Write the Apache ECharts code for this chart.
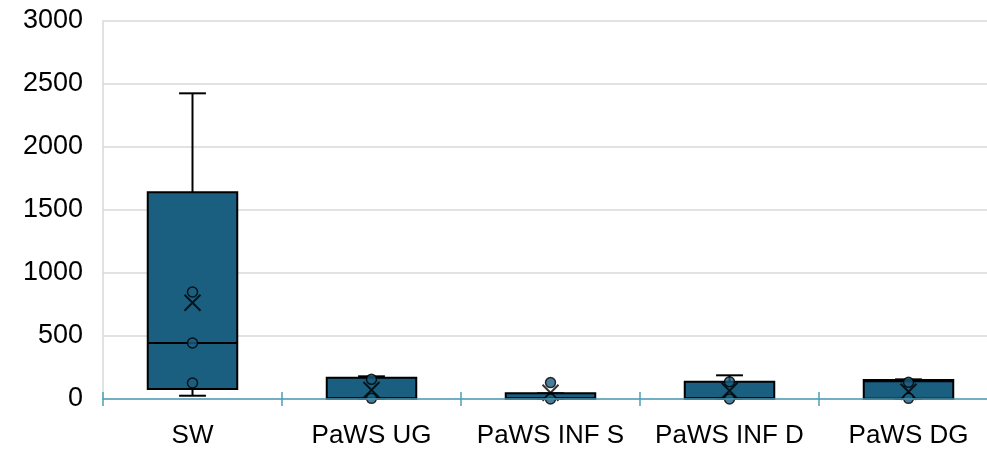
<!DOCTYPE html>
<html>
<head>
<meta charset="utf-8">
<script src="https://cdn.jsdelivr.net/npm/echarts@6/dist/echarts.min.js"></script>
<style>html,body{margin:0;padding:0;background:#fff}#c{width:987px;height:452px}</style>
</head>
<body>
<div id="c"></div>
<script>
var categories = ['SW', 'PaWS UG', 'PaWS INF S', 'PaWS INF D', 'PaWS DG'];
var mins    = [26, 0, 0, 0, 0];
var q1s     = [79, 2, 2, 2, 2];
var medians = [444, 5, 5, 5, 140];
var q3s     = [1640, 169, 45, 137, 150];
var maxs    = [2426, 180, 45, 188, 156];
var means   = [764, 71, 50, 66, 58];
var points  = [[127, 444, 849], [5, 156], [0, 130], [0, 137], [5, 132]];
var yTicks  = [0, 500, 1000, 1500, 2000, 2500, 3000];

var boxData = categories.map(function (c, i) {
  return [i, mins[i], q1s[i], medians[i], q3s[i], maxs[i]];
});
var meanData = means.map(function (m, i) { return [i, m]; });
var pointData = [];
points.forEach(function (arr, i) { arr.forEach(function (v) { pointData.push([i, v]); }); });

var FILL = '#1a5e80';
var chart = echarts.init(document.getElementById('c'));
chart.setOption({
  animation: false,
  grid: { left: 103, width: 895, top: 21, bottom: 53, outerBoundsMode: 'none', containLabel: false },
  xAxis: [{
    type: 'category', data: categories, boundaryGap: true,
    axisLine: { show: true, lineStyle: { color: '#4d9fb8', width: 1.5 } },
    axisTick: { show: true, length: 7, lineStyle: { color: '#4d9fb8', width: 1.5 } },
    axisLabel: { color: '#000', fontFamily: 'Liberation Sans', fontSize: 26, margin: 24, interval: 0 },
    splitLine: { show: false }, z: 5
  }, {
    type: 'category', data: categories, boundaryGap: true, position: 'bottom',
    axisLine: { show: false },
    axisTick: { show: true, inside: true, length: 7, lineStyle: { color: '#4d9fb8', width: 1.5 } },
    axisLabel: { show: false }, z: 5
  }],
  yAxis: {
    type: 'value', min: yTicks[0], max: yTicks[yTicks.length - 1], interval: 500,
    axisLine: { show: true, lineStyle: { color: '#d9d9d9', width: 1.5 } },
    axisTick: { show: false },
    axisLabel: { color: '#000', fontFamily: 'Liberation Sans', fontSize: 27, margin: 20,
      formatter: function (v) { return String(v); } },
    splitLine: { lineStyle: { color: '#d9d9d9', width: 1.5 } }
  },
  series: [{
    type: 'custom',
    data: boxData,
    z: 2,
    renderItem: function (params, api) {
      var x = api.value(0);
      var band = api.size([1, 0])[0];
      var bw = band * 0.5;
      var cw = band * 0.15;
      var pMin = api.coord([x, api.value(1)]);
      var pQ1 = api.coord([x, api.value(2)]);
      var pMed = api.coord([x, api.value(3)]);
      var pQ3 = api.coord([x, api.value(4)]);
      var pMax = api.coord([x, api.value(5)]);
      var cx = pQ1[0];
      var ls = { stroke: '#000', lineWidth: 2 };
      return {
        type: 'group',
        children: [
          { type: 'line', shape: { x1: cx, y1: pQ3[1], x2: cx, y2: pMax[1] }, style: ls },
          { type: 'line', shape: { x1: cx, y1: pQ1[1], x2: cx, y2: pMin[1] }, style: ls },
          { type: 'line', shape: { x1: cx - cw / 2, y1: pMax[1], x2: cx + cw / 2, y2: pMax[1] }, style: ls },
          { type: 'line', shape: { x1: cx - cw / 2, y1: pMin[1], x2: cx + cw / 2, y2: pMin[1] }, style: ls },
          { type: 'rect', shape: { x: cx - bw / 2, y: pQ3[1], width: bw, height: pQ1[1] - pQ3[1] },
            style: { fill: FILL, stroke: '#000', lineWidth: 2 } },
          { type: 'line', shape: { x1: cx - bw / 2, y1: pMed[1], x2: cx + bw / 2, y2: pMed[1] }, style: ls }
        ]
      };
    }
  }, {
    type: 'scatter',
    data: meanData,
    z: 3,
    symbol: 'path://M0,0L10,10M10,0L0,10',
    symbolSize: 16,
    itemStyle: { color: 'none', borderColor: '#000', borderWidth: 2 }
  }, {
    type: 'scatter',
    data: pointData,
    z: 4,
    symbol: 'circle',
    symbolSize: 10,
    itemStyle: { color: FILL, borderColor: '#000', borderWidth: 1.5 }
  }]
});
</script>
</body>
</html>
